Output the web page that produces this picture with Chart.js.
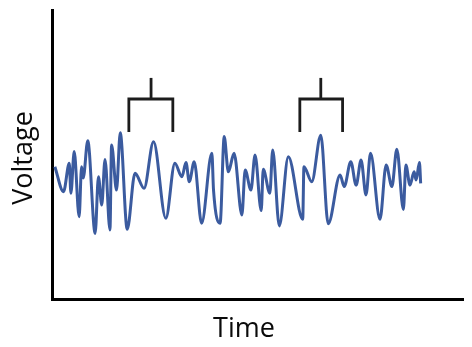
<!DOCTYPE html>
<html>
<head>
<meta charset="utf-8">
<script src="https://cdn.jsdelivr.net/npm/chart.js@4.4.1/dist/chart.umd.min.js"></script>
<style>
    html, body { margin: 0; padding: 0; background: #fff; }
    #wrap { width: 472px; height: 347px; }
</style>
</head>
<body>
<div id="wrap"><canvas id="voltageChart"></canvas></div>
<script>
// Signal (time and voltage in arbitrary 0-100 units)
const time = [0.7, 2.8, 4.2, 4.6, 5.4, 6.6, 7.2, 7.6, 8.7, 10.5, 11.3, 12.1, 12.9, 14.1, 14.5, 15.7, 16.6, 18.3,
    20.2, 22.4, 24.7, 27.7, 29.9, 31.6, 32.6, 33.4, 34.6, 36.4, 38.9, 39.3, 40.9, 41.9, 42.9, 44.3, 46.2, 47.0,
    48.4, 49.4, 50.9, 51.4, 53.0, 53.7, 55.3, 57.5, 61.0, 61.3, 63.2, 65.4, 67.2, 70.1, 71.1, 72.7, 74.0, 75.2,
    76.4, 77.5, 79.8, 81.3, 82.7, 83.9, 85.5, 86.1, 87.1, 88.1, 88.6, 89.4, 89.7];
const voltage = [45.8, 37.1, 47.0, 36.6, 51.0, 28.5, 45.8, 41.9, 54.8, 22.7, 42.3, 32.5, 48.3, 23.9, 53.3, 37.7, 57.5, 24.1,
    43.5, 38.3, 54.4, 27.9, 47.0, 42.3, 47.2, 40.6, 47.5, 26.2, 50.4, 37.7, 26.2, 56.2, 44.0, 50.4, 29.1, 44.6,
    37.7, 49.8, 30.6, 44.9, 36.6, 51.6, 25.3, 49.2, 27.6, 45.8, 40.6, 56.7, 26.0, 42.9, 38.9, 47.5, 39.4, 48.1,
    36.0, 50.4, 27.6, 46.4, 38.9, 51.8, 31.0, 46.4, 39.4, 44.0, 41.2, 47.2, 40.0];

// Bracket markers above the two highlighted stretches
const bracketLeft = [18.7, 60.3];
const bracketRight = [29.4, 70.7];
const bracketStem = [24.1, 65.4];
const bracketFoot = 57.8;
const bracketBar = 69.2;
const bracketTip = 76.5;

const xTitle = 'Time';
const yTitle = 'Voltage';

const signal = time.map((t, i) => ({ x: t, y: voltage[i] }));

const bracketSets = [];
bracketLeft.forEach((l, i) => {
    bracketSets.push({
        data: [
            { x: l, y: bracketFoot }, { x: l, y: bracketBar },
            { x: bracketRight[i], y: bracketBar }, { x: bracketRight[i], y: bracketFoot }
        ],
        borderColor: '#1c1c1c', borderWidth: 2.8, pointRadius: 0, tension: 0, fill: false
    });
    bracketSets.push({
        data: [{ x: bracketStem[i], y: bracketBar }, { x: bracketStem[i], y: bracketTip }],
        borderColor: '#1c1c1c', borderWidth: 2.8, pointRadius: 0, tension: 0, fill: false
    });
});

// axis titles placed where the picture has them
const axisTitles = {
    id: 'axisTitles',
    afterDraw(chart) {
        const ctx = chart.ctx;
        ctx.save();
        ctx.fillStyle = '#0a0a0a';
        ctx.font = '500 27px "Open Sans"';
        ctx.textAlign = 'center';
        ctx.textBaseline = 'alphabetic';
        ctx.fillText(xTitle, 244, 337);
        ctx.translate(32, 158);
        ctx.rotate(-Math.PI / 2);
        ctx.fillText(yTitle, 0, 0);
        ctx.restore();
    }
};

new Chart(document.getElementById('voltageChart'), {
    type: 'line',
    data: {
        datasets: [{
            data: signal,
            borderColor: '#3b5b9f',
            borderWidth: 3,
            pointRadius: 0,
            cubicInterpolationMode: 'monotone',
            fill: false
        }, ...bracketSets]
    },
    options: {
        responsive: true,
        maintainAspectRatio: false,
        animation: false,
        layout: { padding: { left: 44, right: 9, top: 10, bottom: 40 } },
        plugins: { legend: { display: false }, tooltip: { enabled: false } },
        scales: {
            x: {
                type: 'linear', min: 0, max: 100,
                grid: { display: false },
                ticks: { display: false },
                border: { color: '#000', width: 3 }
            },
            y: {
                type: 'linear', min: 0, max: 100,
                grid: { display: false },
                ticks: { display: false },
                border: { color: '#000', width: 3 }
            }
        }
    },
    plugins: [axisTitles]
});
</script>
</body>
</html>
